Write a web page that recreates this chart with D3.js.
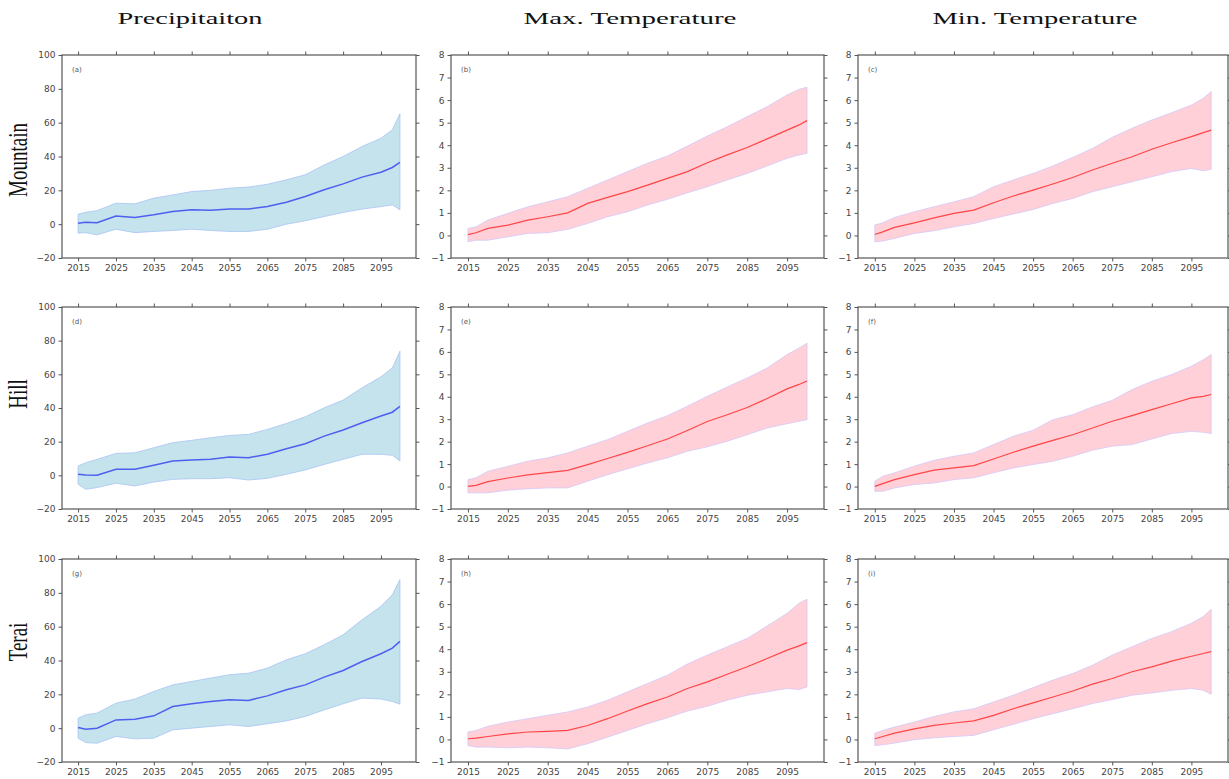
<!DOCTYPE html>
<html>
<head>
<meta charset="utf-8">
<script src="https://cdn.jsdelivr.net/npm/d3@7"></script>
<style>
  body { margin: 0; background: #fff; }
  svg { display: block; }
</style>
</head>
<body>
<svg id="chart" width="1229" height="779"></svg>
<script>
// ---- data ----
const years = [2015, 2017, 2020, 2025, 2030, 2035, 2040, 2045, 2050, 2055, 2060, 2065, 2070, 2075, 2080, 2085, 2090, 2095, 2098, 2100];
const xTicks = [2015, 2025, 2035, 2045, 2055, 2065, 2075, 2085, 2095];
const precipTicks = [-20, 0, 20, 40, 60, 80, 100];
const tempTicks = [-1, 0, 1, 2, 3, 4, 5, 6, 7, 8];
const columnTitles = ['Precipitaiton', 'Max. Temperature', 'Min. Temperature'];
const rowTitles = ['Mountain', 'Hill', 'Terai'];
const panelTags = ['(a)', '(b)', '(c)', '(d)', '(e)', '(f)', '(g)', '(h)', '(i)'];

// Mountain
const mtnPrMean = [0.6, 1.2, 0.8, 4.8, 4.0, 5.5, 7.5, 8.5, 8.2, 9.0, 9.0, 10.5, 13.0, 16.4, 20.3, 23.8, 27.8, 30.7, 33.5, 36.5];
const mtnPrUpper = [5.9, 7.0, 8.0, 12.4, 12.0, 15.4, 17.3, 19.3, 20.0, 21.3, 21.9, 23.6, 26.2, 29.2, 35.0, 40.0, 45.9, 50.8, 55.8, 65.2];
const mtnPrLower = [-5.3, -5.0, -6.3, -3.0, -5.0, -4.3, -3.7, -3.0, -3.7, -4.3, -4.3, -3.0, 0.0, 2.0, 4.5, 6.9, 8.9, 10.4, 11.4, 8.5];
const mtnTmaxMean = [0.04, 0.12, 0.31, 0.46, 0.68, 0.83, 1.0, 1.42, 1.69, 1.94, 2.23, 2.53, 2.83, 3.22, 3.57, 3.9, 4.28, 4.67, 4.9, 5.09];
const mtnTmaxUpper = [0.31, 0.38, 0.68, 0.98, 1.27, 1.49, 1.72, 2.09, 2.46, 2.83, 3.2, 3.52, 3.96, 4.41, 4.82, 5.27, 5.71, 6.23, 6.48, 6.57];
const mtnTmaxLower = [-0.28, -0.21, -0.21, -0.06, 0.09, 0.12, 0.27, 0.53, 0.83, 1.05, 1.35, 1.6, 1.89, 2.16, 2.46, 2.75, 3.08, 3.42, 3.57, 3.64];
const mtnTminMean = [0.04, 0.16, 0.36, 0.56, 0.78, 0.98, 1.12, 1.45, 1.75, 2.01, 2.28, 2.57, 2.9, 3.2, 3.49, 3.82, 4.11, 4.38, 4.56, 4.67];
const mtnTminUpper = [0.46, 0.56, 0.8, 1.05, 1.27, 1.49, 1.72, 2.16, 2.46, 2.75, 3.08, 3.46, 3.86, 4.35, 4.75, 5.12, 5.44, 5.78, 6.08, 6.38];
const mtnTminLower = [-0.28, -0.25, -0.13, 0.09, 0.21, 0.38, 0.53, 0.75, 0.95, 1.15, 1.42, 1.64, 1.94, 2.16, 2.38, 2.6, 2.83, 2.97, 2.87, 2.93];

// Hill
const hillPrMean = [0.6, 0.2, 0.0, 3.6, 3.6, 6.0, 8.5, 9.1, 9.5, 10.9, 10.5, 12.5, 15.8, 18.8, 23.3, 26.9, 31.2, 35.2, 37.5, 41.0];
const hillPrUpper = [5.5, 7.5, 9.5, 13.0, 13.4, 16.4, 19.4, 20.8, 22.3, 23.7, 24.3, 27.3, 30.8, 34.8, 40.1, 44.7, 52.0, 58.5, 63.8, 73.7];
const hillPrLower = [-5.3, -8.3, -7.3, -4.7, -6.3, -4.0, -2.4, -2.0, -2.0, -1.4, -2.8, -1.8, 0.6, 3.2, 6.5, 9.5, 12.5, 12.5, 11.9, 8.5];
const hillTmaxMean = [0.01, 0.05, 0.22, 0.38, 0.52, 0.62, 0.72, 0.98, 1.25, 1.52, 1.82, 2.12, 2.5, 2.9, 3.2, 3.52, 3.92, 4.35, 4.55, 4.7];
const hillTmaxUpper = [0.31, 0.39, 0.68, 0.9, 1.13, 1.28, 1.5, 1.8, 2.09, 2.46, 2.83, 3.16, 3.58, 4.02, 4.44, 4.84, 5.28, 5.88, 6.17, 6.39];
const hillTmaxLower = [-0.28, -0.28, -0.28, -0.16, -0.1, -0.06, -0.06, 0.24, 0.53, 0.79, 1.05, 1.28, 1.57, 1.77, 2.02, 2.31, 2.61, 2.8, 2.91, 2.98];
const hillTminMean = [0.01, 0.13, 0.31, 0.53, 0.73, 0.83, 0.93, 1.23, 1.53, 1.8, 2.06, 2.31, 2.61, 2.91, 3.16, 3.43, 3.69, 3.95, 4.02, 4.1];
const hillTminUpper = [0.24, 0.46, 0.61, 0.91, 1.17, 1.35, 1.5, 1.87, 2.24, 2.51, 2.98, 3.2, 3.55, 3.84, 4.32, 4.69, 4.99, 5.36, 5.65, 5.88];
const hillTminLower = [-0.21, -0.21, -0.06, 0.09, 0.16, 0.31, 0.39, 0.61, 0.83, 0.98, 1.13, 1.35, 1.62, 1.8, 1.87, 2.12, 2.36, 2.46, 2.42, 2.36];

// Terai
const teraiPrMean = [0.4, -0.6, 0.0, 4.9, 5.3, 7.3, 12.8, 14.4, 15.8, 16.8, 16.4, 19.1, 22.7, 25.6, 30.2, 34.1, 39.4, 44.0, 47.3, 51.3];
const teraiPrUpper = [5.9, 7.9, 8.9, 14.8, 17.2, 21.7, 25.6, 27.6, 29.6, 31.6, 32.5, 35.5, 40.4, 44.0, 49.3, 55.2, 64.1, 72.0, 78.9, 87.8];
const teraiPrLower = [-5.9, -8.5, -8.9, -4.9, -6.3, -5.9, -1.0, 0.0, 1.0, 2.0, 1.0, 2.6, 4.3, 6.9, 10.8, 14.4, 17.8, 17.2, 15.8, 14.2];
const teraiTmaxMean = [0.03, 0.06, 0.13, 0.25, 0.33, 0.36, 0.4, 0.62, 0.92, 1.26, 1.59, 1.88, 2.26, 2.55, 2.89, 3.22, 3.59, 3.96, 4.15, 4.29];
const teraiTmaxUpper = [0.33, 0.4, 0.58, 0.77, 0.92, 1.07, 1.22, 1.44, 1.74, 2.11, 2.48, 2.85, 3.34, 3.74, 4.11, 4.48, 5.03, 5.59, 6.04, 6.22];
const teraiTmaxLower = [-0.27, -0.34, -0.34, -0.37, -0.34, -0.37, -0.42, -0.19, 0.1, 0.4, 0.7, 0.96, 1.26, 1.47, 1.74, 1.96, 2.11, 2.26, 2.21, 2.33];
const teraiTminMean = [0.03, 0.13, 0.28, 0.47, 0.62, 0.73, 0.82, 1.07, 1.36, 1.62, 1.88, 2.15, 2.45, 2.7, 3.0, 3.22, 3.47, 3.69, 3.81, 3.89];
const teraiTminUpper = [0.28, 0.4, 0.55, 0.77, 1.02, 1.22, 1.36, 1.66, 1.96, 2.3, 2.63, 2.92, 3.29, 3.74, 4.11, 4.48, 4.78, 5.15, 5.45, 5.77];
const teraiTminLower = [-0.27, -0.24, -0.16, -0.01, 0.07, 0.13, 0.18, 0.43, 0.67, 0.92, 1.14, 1.36, 1.59, 1.77, 1.96, 2.06, 2.18, 2.26, 2.18, 2.0];

const panels = [
    [mtnPrMean, mtnPrUpper, mtnPrLower], [mtnTmaxMean, mtnTmaxUpper, mtnTmaxLower], [mtnTminMean, mtnTminUpper, mtnTminLower],
    [hillPrMean, hillPrUpper, hillPrLower], [hillTmaxMean, hillTmaxUpper, hillTmaxLower], [hillTminMean, hillTminUpper, hillTminLower],
    [teraiPrMean, teraiPrUpper, teraiPrLower], [teraiTmaxMean, teraiTmaxUpper, teraiTmaxLower], [teraiTminMean, teraiTminUpper, teraiTminLower]
];

// ---- layout ----
const colBox = [{ left: 62, right: 416 }, { left: 451, right: 824 }, { left: 858, right: 1228 }];
const rowBox = [{ top: 55, bottom: 258 }, { top: 307, bottom: 509 }, { top: 559, bottom: 762 }];
const titleX = [190, 630, 1035];
const titleLen = [145, 213, 205];
const rowLabelY = [160, 394, 642];

const svg = d3.select('#chart');

// column titles (stretched serif like the source image)
columnTitles.forEach((t, i) => {
    svg.append('text')
        .attr('x', titleX[i] - titleLen[i] / 2)
        .attr('y', 24)
        .attr('textLength', titleLen[i])
        .attr('lengthAdjust', 'spacingAndGlyphs')
        .style('font-family', '"Liberation Serif", "Times New Roman", serif')
        .style('font-size', '17px')
        .attr('fill', '#111')
        .text(t);
});

// row titles
rowTitles.forEach((t, i) => {
    svg.append('text')
        .attr('transform', `translate(27, ${rowLabelY[i]}) scale(1.45, 1) rotate(-90)`)
        .attr('text-anchor', 'middle')
        .style('font-family', '"Liberation Serif", "Times New Roman", serif')
        .style('font-size', '19px')
        .attr('fill', '#111')
        .text(t);
});

panels.forEach((p, idx) => {
    const r = Math.floor(idx / 3);
    const c = idx % 3;
    const box = { ...colBox[c], ...rowBox[r] };
    const isPrecip = c === 0;
    const [mean, upper, lower] = p;

    const x = d3.scaleLinear().domain([2010.75, 2104.25]).range([box.left, box.right]);
    const y = d3.scaleLinear()
        .domain(isPrecip ? [-20, 100] : [-1, 8])
        .range([box.bottom, box.top]);
    const yTicks = isPrecip ? precipTicks : tempTicks;

    const g = svg.append('g').attr('class', 'panel');

    const area = d3.area()
        .x((d, i) => x(years[i]))
        .y0((d, i) => y(lower[i]))
        .y1((d, i) => y(upper[i]));
    const line = d3.line()
        .x((d, i) => x(years[i]))
        .y(d => y(d));

    g.append('path')
        .datum(mean)
        .attr('d', area)
        .attr('fill', isPrecip ? '#add8e6' : 'pink')
        .attr('fill-opacity', isPrecip ? 0.72 : 0.75)
        .attr('stroke', isPrecip ? '#a8c4f4' : '#d4c8f8')
        .attr('stroke-width', 0.8);

    g.append('path')
        .datum(mean)
        .attr('d', line)
        .attr('fill', 'none')
        .attr('stroke', isPrecip ? '#4e5ff0' : '#ff4545')
        .attr('stroke-width', isPrecip ? 1.5 : 1.2);

    // axes on all four sides, labels only left/bottom
    const tickStyle = sel => {
        sel.select('.domain').remove();
        sel.selectAll('line').attr('stroke', '#555');
        sel.selectAll('text')
            .style('font-family', '"DejaVu Sans", sans-serif')
            .style('font-size', '9px')
            .attr('fill', '#444');
    };
    g.append('g')
        .attr('transform', `translate(0, ${box.bottom})`)
        .call(d3.axisBottom(x).tickValues(xTicks).tickFormat(d3.format('d')).tickSize(3.5).tickPadding(3))
        .call(tickStyle);
    g.append('g')
        .attr('transform', `translate(0, ${box.top})`)
        .call(d3.axisTop(x).tickValues(xTicks).tickFormat('').tickSize(3.5))
        .call(tickStyle);
    g.append('g')
        .attr('transform', `translate(${box.left}, 0)`)
        .call(d3.axisLeft(y).tickValues(yTicks).tickSize(3.5).tickPadding(3))
        .call(tickStyle);
    g.append('g')
        .attr('transform', `translate(${box.right}, 0)`)
        .call(d3.axisRight(y).tickValues(yTicks).tickFormat('').tickSize(3.5))
        .call(tickStyle);

    // frame
    g.append('rect')
        .attr('x', box.left)
        .attr('y', box.top)
        .attr('width', box.right - box.left)
        .attr('height', box.bottom - box.top)
        .attr('fill', 'none')
        .attr('stroke', '#555')
        .attr('stroke-width', 1.2);

    g.append('text')
        .attr('x', box.left + 10)
        .attr('y', box.top + 17)
        .style('font-family', '"DejaVu Sans", sans-serif')
        .style('font-size', '7px')
        .attr('fill', '#555')
        .text(panelTags[idx]);
});
</script>
</body>
</html>
